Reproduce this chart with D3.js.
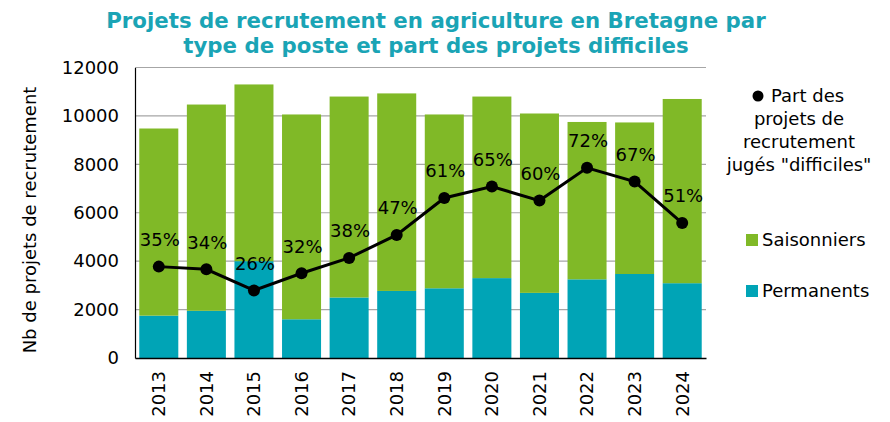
<!DOCTYPE html>
<html>
<head>
<meta charset="utf-8">
<script src="https://cdn.jsdelivr.net/npm/d3@7"></script>
<style>
  html, body { margin: 0; padding: 0; background: #fff; }
  svg { display: block; font-family: "DejaVu Sans", Verdana, sans-serif; }
</style>
</head>
<body>
<svg id="chart" width="890" height="422"></svg>
<script>
const years = ["2013","2014","2015","2016","2017","2018","2019","2020","2021","2022","2023","2024"];
const permanents = [1750, 1950, 4000, 1600, 2500, 2770, 2880, 3300, 2690, 3250, 3470, 3090];
const totals = [9480, 10470, 11300, 10060, 10800, 10930, 10060, 10800, 10100, 9750, 9730, 10700];
const saisonniers = totals.map((t, i) => t - permanents[i]);
const partDifficiles = [34.6, 33.6, 25.6, 32.1, 37.9, 46.6, 60.6, 64.9, 59.6, 72.0, 66.8, 51.1];
const yTicks = [0, 2000, 4000, 6000, 8000, 10000, 12000];

const colPerm = "#00A4B6";
const colSais = "#80B927";
const colTitle = "#1AA4B5";

const svg = d3.select("#chart");

const x = d3.scaleBand().domain(years).range([135, 706]).paddingInner(0.18).paddingOuter(0.09);
const y = d3.scaleLinear().domain([0, 12000]).range([358, 67.5]);
const y2 = d3.scaleLinear().domain([0, 110]).range([358, 67.5]);

// gridlines
svg.append("g").selectAll("line").data(yTicks.filter(d => d > 0)).join("line")
  .attr("x1", 135).attr("x2", 706)
  .attr("y1", d => y(d)).attr("y2", d => y(d))
  .attr("stroke", "#A6A6A6").attr("stroke-width", 1.2);

// stacked bars
const stackData = years.map((yr, i) => ({year: yr, Permanents: permanents[i], Saisonniers: saisonniers[i]}));
const series = d3.stack().keys(["Permanents", "Saisonniers"])(stackData);
const colors = {Permanents: colPerm, Saisonniers: colSais};
svg.append("g").selectAll("g").data(series).join("g")
  .attr("fill", d => colors[d.key])
  .selectAll("rect").data(d => d).join("rect")
  .attr("x", d => x(d.data.year))
  .attr("width", x.bandwidth())
  .attr("y", d => y(d[1]))
  .attr("height", d => y(d[0]) - y(d[1]));

// y axis
const yAxis = svg.append("g").attr("transform", "translate(135,0)")
  .call(d3.axisLeft(y).tickValues(yTicks).tickSize(0).tickPadding(16).tickFormat(d3.format("d")));
yAxis.select(".domain").attr("stroke", "#000").attr("stroke-width", 1.2);
yAxis.selectAll("text").attr("font-size", 18).attr("fill", "#000").attr("font-family", "DejaVu Sans");

// x axis
const xAxis = svg.append("g").attr("transform", "translate(0,358)")
  .call(d3.axisBottom(x).tickSize(0).tickPadding(0));
xAxis.select(".domain").attr("stroke", "#000").attr("stroke-width", 1.5);
xAxis.selectAll("text")
  .attr("font-size", 18).attr("fill", "#000").attr("font-family", "DejaVu Sans")
  .attr("transform", "rotate(-90)")
  .attr("text-anchor", "end")
  .attr("dy", "0.35em")
  .attr("x", -13).attr("y", 0);

// line
const line = d3.line().x((d, i) => x(years[i]) + x.bandwidth() / 2).y(d => y2(d));
svg.append("path").datum(partDifficiles)
  .attr("d", line).attr("fill", "none").attr("stroke", "#000").attr("stroke-width", 3);
svg.append("g").selectAll("circle").data(partDifficiles).join("circle")
  .attr("cx", (d, i) => x(years[i]) + x.bandwidth() / 2)
  .attr("cy", d => y2(d)).attr("r", 6).attr("fill", "#000");
svg.append("g").selectAll("text").data(partDifficiles).join("text")
  .attr("x", (d, i) => x(years[i]) + x.bandwidth() / 2 + 1)
  .attr("y", d => y2(d) - 27)
  .attr("dy", "0.35em")
  .attr("text-anchor", "middle")
  .attr("font-size", 18).attr("fill", "#000")
  .text(d => Math.round(d) + "%");

// y axis title
svg.append("text")
  .attr("transform", "translate(36,220) rotate(-90)")
  .attr("text-anchor", "middle").attr("font-size", 18).attr("fill", "#000")
  .text("Nb de projets de recrutement");

// title
const titleLines = ["Projets de recrutement en agriculture en Bretagne par", "type de poste et part des projets difficiles"];
svg.append("g").selectAll("text").data(titleLines).join("text")
  .attr("x", 436).attr("y", (d, i) => 28 + i * 25)
  .attr("text-anchor", "middle").attr("font-size", 21.3).attr("font-weight", "bold")
  .attr("fill", colTitle)
  .text(d => d);

// legend
const legLine = ["projets de", "recrutement", "jugés \"difficiles\""];
svg.append("circle").attr("cx", 758).attr("cy", 96).attr("r", 5.5).attr("fill", "#000");
svg.append("text").attr("x", 771).attr("y", 96).attr("dy", "0.35em")
  .attr("font-size", 18).attr("fill", "#000").text("Part des");
svg.append("g").selectAll("text").data(legLine).join("text")
  .attr("x", 799).attr("y", (d, i) => 119 + i * 23).attr("dy", "0.35em")
  .attr("text-anchor", "middle").attr("font-size", 18).attr("fill", "#000")
  .text(d => d);

const legItems = [{k: "Saisonniers", c: colSais, y: 240}, {k: "Permanents", c: colPerm, y: 291}];
const lg = svg.append("g").selectAll("g").data(legItems).join("g");
lg.append("rect").attr("x", 746).attr("y", d => d.y - 6).attr("width", 12).attr("height", 12).attr("fill", d => d.c);
lg.append("text").attr("x", 762).attr("y", d => d.y).attr("dy", "0.35em")
  .attr("font-size", 18).attr("fill", "#000").text(d => d.k);
</script>
</body>
</html>
